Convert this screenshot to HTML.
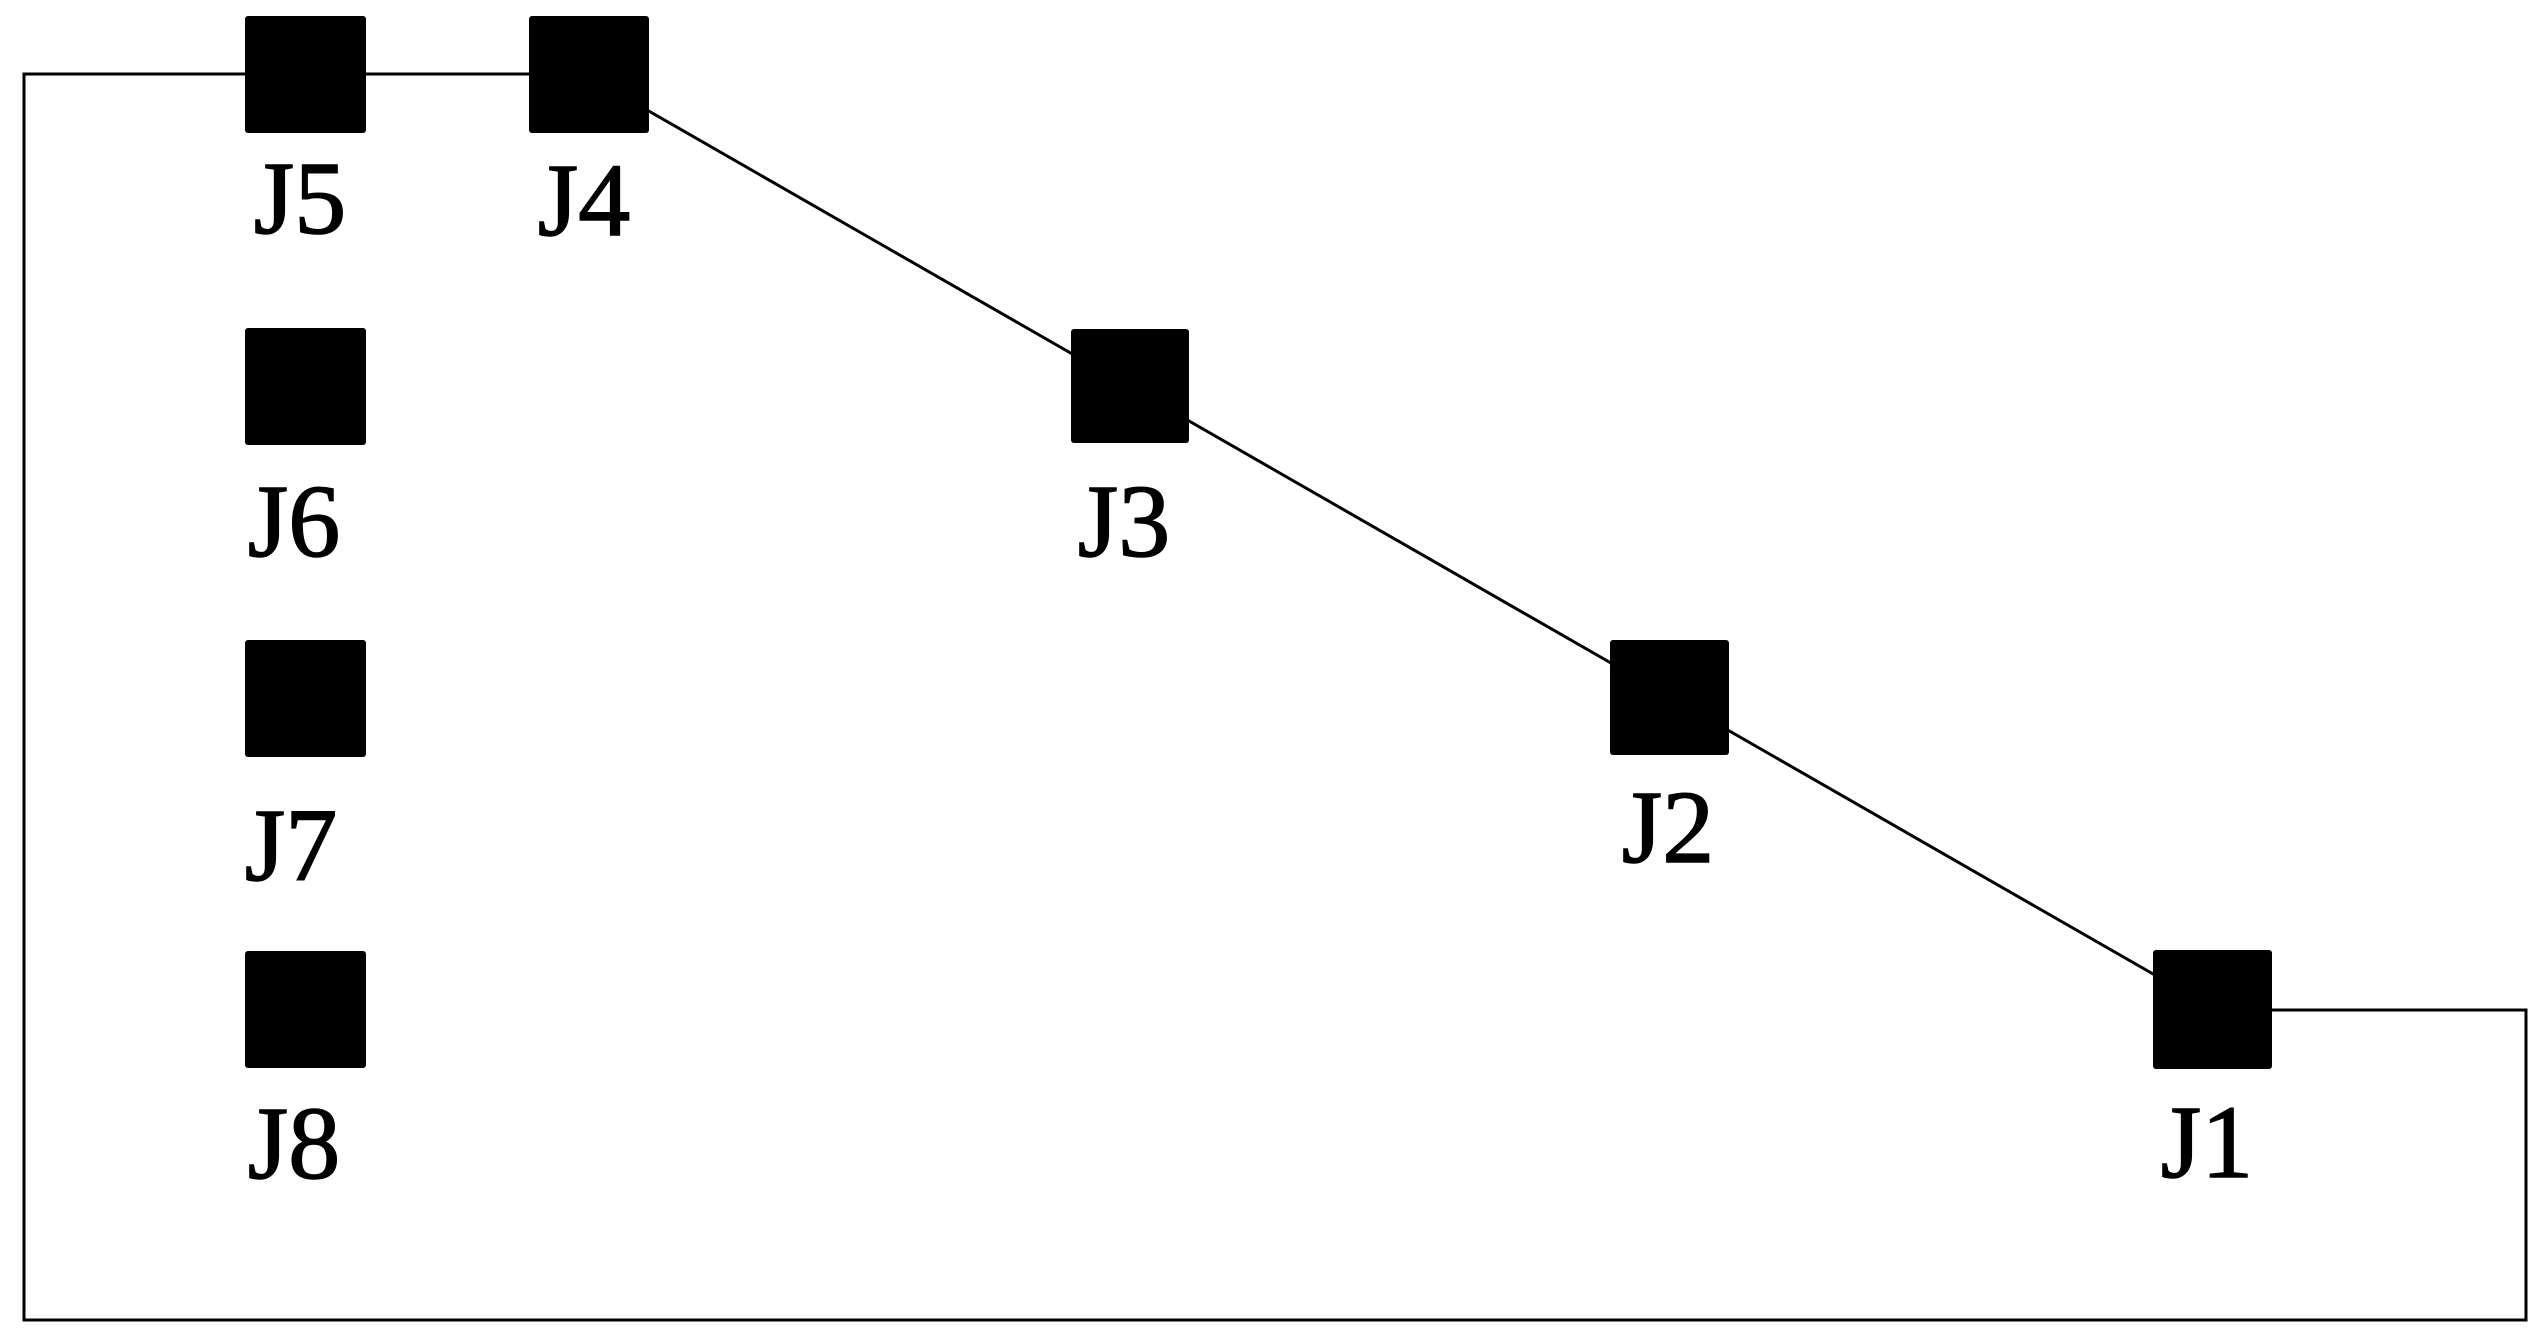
<!DOCTYPE html>
<html><head><style>
html,body{margin:0;padding:0;background:#fff;}
svg{display:block}
text{font-family:"Liberation Serif",serif;font-size:104px;fill:#000;stroke:#000;stroke-width:1.5}
</style></head><body>
<svg width="2540" height="1337" viewBox="0 0 2540 1337" xmlns="http://www.w3.org/2000/svg">
<g fill="none" stroke="#000" stroke-width="3">
<polyline points="590,74 24,74 24,1320 2526,1320 2526,1010 2260,1010"/>
<line x1="640" y1="106" x2="2160" y2="978"/>
</g>
<g fill="#000">
<rect x="245" y="16" width="121" height="117" rx="3"/>
<rect x="529" y="16" width="120" height="117" rx="3"/>
<rect x="245" y="328" width="121" height="117" rx="3"/>
<rect x="245" y="640" width="121" height="117" rx="3"/>
<rect x="245" y="951" width="121" height="117" rx="3"/>
<rect x="1071" y="329" width="118" height="114" rx="3"/>
<rect x="1610" y="640" width="119" height="115" rx="3"/>
<rect x="2153" y="950" width="119" height="119" rx="3"/>
</g>
<text x="300" y="233" text-anchor="middle">J5</text>
<text x="584" y="235" text-anchor="middle">J4</text>
<text x="294" y="556" text-anchor="middle">J6</text>
<text x="1124" y="556" text-anchor="middle">J3</text>
<text x="291" y="880" text-anchor="middle">J7</text>
<text x="1668" y="862" text-anchor="middle">J2</text>
<text x="294" y="1178" text-anchor="middle">J8</text>
<text x="2207" y="1177" text-anchor="middle">J1</text>
</svg>
</body></html>
